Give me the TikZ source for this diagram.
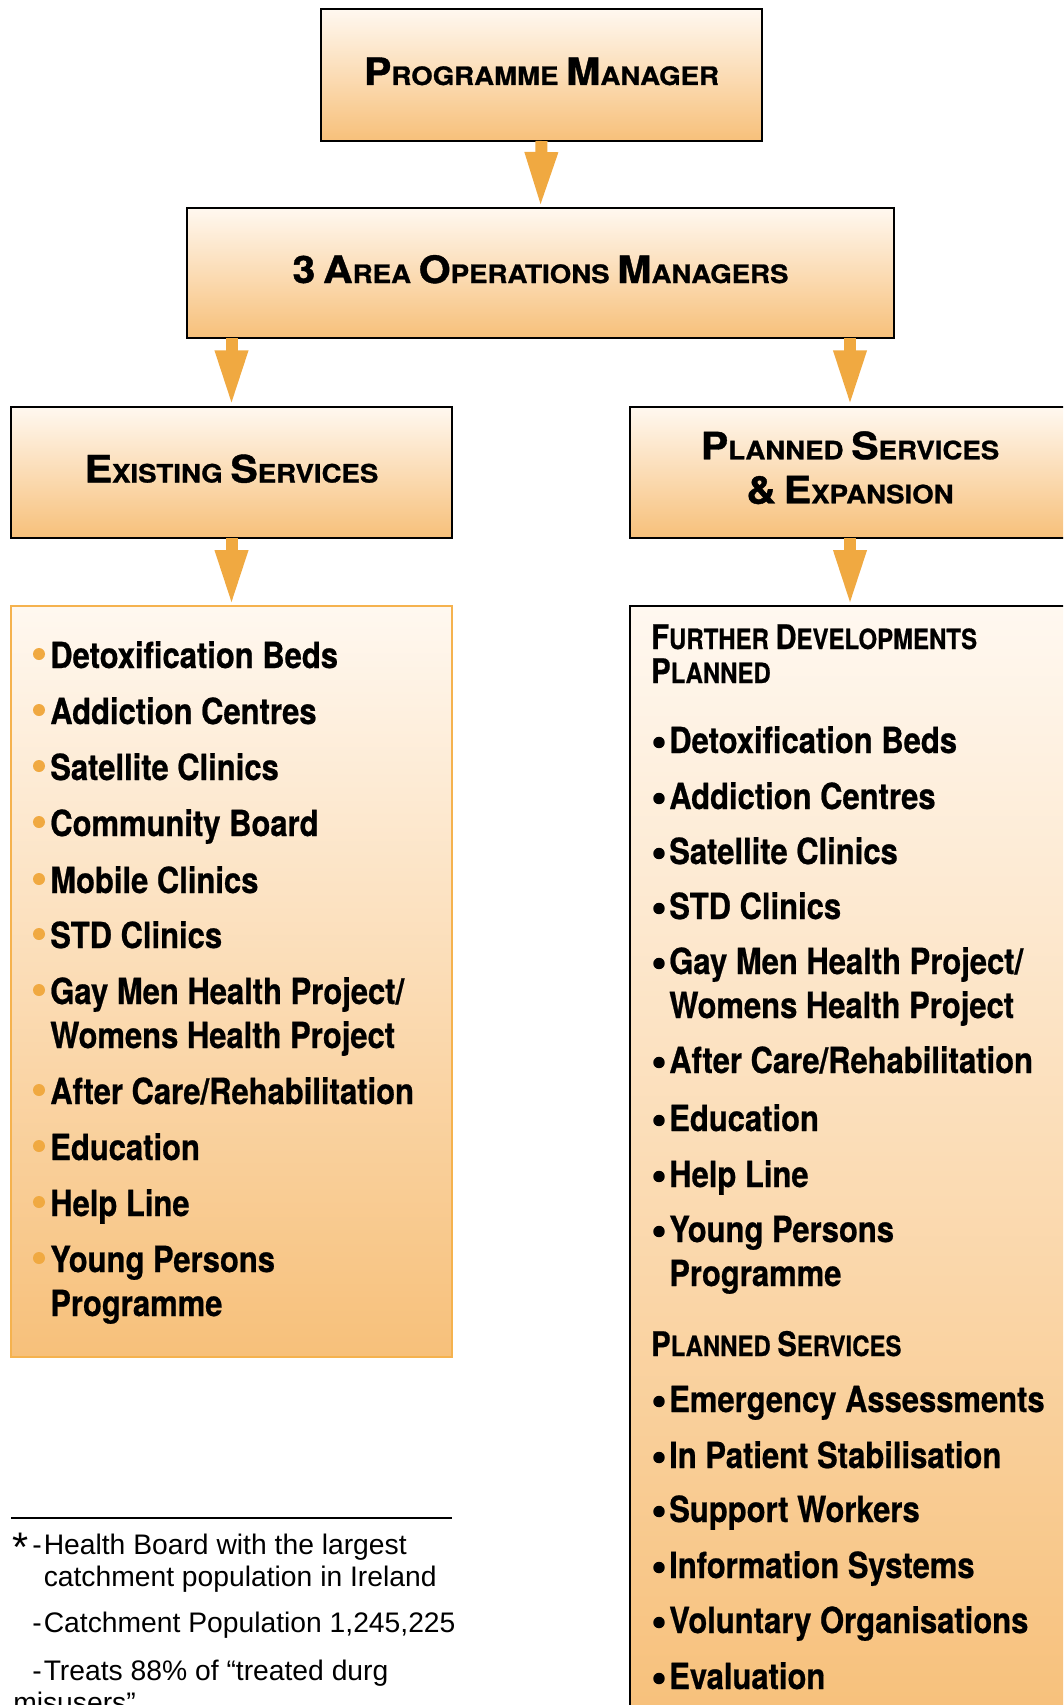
\documentclass[tikz,border=0pt]{standalone}
\usepackage{fontspec}
\setmainfont{TeX Gyre Heros}
\newfontfamily\titlefont[FakeStretch=1.09,FakeBold=1.0]{TeX Gyre Heros}
\newfontfamily\condfont[FakeStretch=0.86,FakeBold=0.6]{TeX Gyre Heros}
\newfontfamily\notefont{Liberation Sans}
\usetikzlibrary{arrows.meta}

\definecolor{boxtop}{HTML}{FFF8F0}
\definecolor{boxbot}{HTML}{F7C07A}
\definecolor{flowor}{HTML}{F0A941}
\definecolor{listedge}{HTML}{F5B24E}

% small capitals built by hand: full-size initial, reduced capitals after it
\newcommand\capsT[2]{{\fontsize{28.3pt}{34pt}\selectfont #1}#2}
\newcommand\capsH[2]{{\fontsize{25.4pt}{30pt}\selectfont #1}#2}

% one list entry with its bullet
\newcommand\leftentry[3]{%
  \node[listitem] (#1) at (50,#2) {#3};
  \fill[flowor] (#1.base west) ++(-11,-14) circle[radius=4.5pt];}
\newcommand\rightentry[3]{%
  \node[listitem] (#1) at (669,#2) {#3};
  \fill[black] (#1.base west) ++(-10,-10.5) circle[radius=4.3pt];}

\tikzset{
  boxbase/.style={draw=black, line width=1.1pt, top color=boxtop, bottom color=boxbot,
    inner sep=0pt, outer sep=0pt},
  titlebox/.style={boxbase,
    font=\titlefont\bfseries\fontsize{19pt}{33pt}\selectfont},
  oneline/.style={text height=20.25pt, text depth=5.25pt},
  flow/.style={draw=flowor, line width=9pt, -{Triangle[length=42pt,width=22.5pt]}},
  listitem/.style={anchor=base west, inner sep=0pt,
    font=\condfont\bfseries\fontsize{27pt}{33pt}\selectfont},
  listhead/.style={anchor=base west, inner sep=0pt,
    font=\condfont\bfseries\fontsize{20.9pt}{25pt}\selectfont},
  notetext/.style={anchor=base west, inner sep=0pt,
    font=\notefont\fontsize{21.2pt}{24pt}\selectfont},
}

\begin{document}
\begin{tikzpicture}[x=0.75pt, y=-0.75pt]
\useasboundingbox (0,0) rectangle (1063,1705);
\clip (0,0) rectangle (1063,1705);
\fill[white] (0,0) rectangle (1063,1705);

% management boxes
\node[titlebox, oneline, minimum width=330.75pt, minimum height=99pt] (pm) at (541.5,75)
  {\capsT{P}{ROGRAMME} \capsT{M}{ANAGER}};
\node[titlebox, oneline, minimum width=530.25pt, minimum height=97.5pt] (area) at (540.5,273)
  {\capsT{3}{} \capsT{A}{REA} \capsT{O}{PERATIONS} \capsT{M}{ANAGERS}};
\node[titlebox, oneline, minimum width=330.75pt, minimum height=98.25pt] (existing) at (231.5,472.5)
  {\capsT{E}{XISTING} \capsT{S}{ERVICES}};
\node[titlebox, minimum width=330pt, minimum height=98.25pt] (planned) at (850,472.5)
  {\begin{tabular}{@{}c@{}}\capsT{P}{LANNED} \capsT{S}{ERVICES}\\\capsT{\&}{} \capsT{E}{XPANSION}\end{tabular}};

% service lists
\node[boxbase, draw=listedge, minimum width=330.75pt, minimum height=563.25pt] (leftlist) at (231.5,981.5) {};
\node[boxbase, minimum width=330pt, minimum height=839.25pt] (rightlist) at (850,1165.5) {};

% connectors
\draw[flow] (pm.south) -- (area.north);
\draw[flow, shorten >=0.5pt] (existing.north |- area.south) -- (existing.north);
\draw[flow, shorten >=0.5pt] (planned.north |- area.south) -- (planned.north);
\draw[flow] (existing.south) -- (leftlist.north);
\draw[flow] (planned.south) -- (rightlist.north);

% existing services
\leftentry{l1}{668}{Detoxification Beds}
\leftentry{l2}{724}{Addiction Centres}
\leftentry{l3}{780}{Satellite Clinics}
\leftentry{l4}{836}{Community Board}
\leftentry{l5}{893}{Mobile Clinics}
\leftentry{l6}{948}{STD Clinics}
\leftentry{l7}{1004}{Gay Men Health Project/}
\node[listitem] (l7b) at (50,1048) {Womens Health Project};
\leftentry{l8}{1104}{After Care/Rehabilitation}
\leftentry{l9}{1160}{Education}
\leftentry{l10}{1216}{Help Line}
\leftentry{l11}{1272}{Young Persons}
\node[listitem] (l11b) at (50,1316) {Programme};

% planned services and expansion
\node[listhead] (fd1) at (651,649) {\capsH{F}{URTHER} \capsH{D}{EVELOPMENTS}};
\node[listhead] (fd2) at (651,683) {\capsH{P}{LANNED}};
\rightentry{r1}{753}{Detoxification Beds}
\rightentry{r2}{809}{Addiction Centres}
\rightentry{r3}{864}{Satellite Clinics}
\rightentry{r4}{919}{STD Clinics}
\rightentry{r5}{974}{Gay Men Health Project/}
\node[listitem] (r5b) at (669,1018) {Womens Health Project};
\rightentry{r6}{1073}{After Care/Rehabilitation}
\rightentry{r7}{1131}{Education}
\rightentry{r8}{1187}{Help Line}
\rightentry{r9}{1242}{Young Persons}
\node[listitem] (r9b) at (669,1286) {Programme};
\node[listhead] (ps) at (651,1356) {\capsH{P}{LANNED} \capsH{S}{ERVICES}};
\rightentry{s1}{1412}{Emergency Assessments}
\rightentry{s2}{1468}{In Patient Stabilisation}
\rightentry{s3}{1522}{Support Workers}
\rightentry{s4}{1578}{Information Systems}
\rightentry{s5}{1633}{Voluntary Organisations}
\rightentry{s6}{1689}{Evaluation}

% footnote
\draw[line width=1.1pt] (11,1518) -- (452,1518);
\node[notetext, font=\notefont\fontsize{31pt}{34pt}\selectfont] (star) at (12.5,1561) {*};
\node[notetext] (d1) at (32,1554) {-};
\node[notetext] (n1) at (43.5,1554) {Health Board with the largest};
\node[notetext] (n1b) at (43.5,1586) {catchment population in Ireland};
\node[notetext] (d2) at (32,1632) {-};
\node[notetext] (n2) at (43.5,1632) {Catchment Population 1,245,225};
\node[notetext] (d3) at (32,1680) {-};
\node[notetext] (n3) at (43.5,1680) {Treats 88\% of “treated durg};
\node[notetext] (n3b) at (13,1712) {misusers”};
\end{tikzpicture}
\end{document}
